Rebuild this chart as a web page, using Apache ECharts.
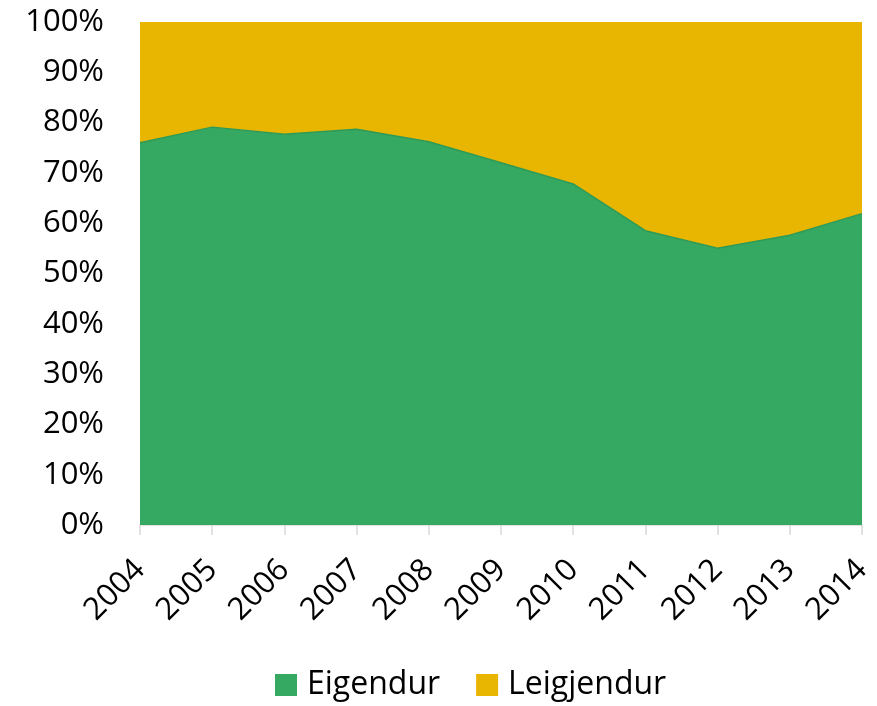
<!DOCTYPE html>
<html>
<head>
<meta charset="utf-8">
<script src="https://cdn.jsdelivr.net/npm/echarts@6/dist/echarts.min.js"></script>
<style>
  html, body { margin: 0; padding: 0; background: #fff; }
  #chart { width: 877px; height: 706px; }
</style>
</head>
<body>
<div id="chart"></div>
<script>
// years on the x axis
const years = ['2004', '2005', '2006', '2007', '2008', '2009', '2010', '2011', '2012', '2013', '2014']
// share of owners / renters, percent
const eigendur = [76.0, 79.1, 77.7, 78.7, 76.2, 72.0, 67.8, 58.5, 55.0, 57.6, 61.9]
const leigjendur = [24.0, 20.9, 22.3, 21.3, 23.8, 28.0, 32.2, 41.5, 45.0, 42.4, 38.1]

const font = 'Open Sans, Liberation Sans, sans-serif'

const myChart = echarts.init(document.getElementById('chart'))
myChart.setOption({
  animation: false,
  grid: { left: 140, right: 15, top: 22, bottom: 181 },
  legend: {
    bottom: 0,
    left: 270,
    itemWidth: 22,
    itemHeight: 22,
    itemGap: 36,
    icon: 'rect',
    textStyle: { fontFamily: font, fontSize: 32, color: '#000', padding: [0, 0, 0, 5] },
    data: ['Eigendur', 'Leigjendur']
  },
  xAxis: {
    type: 'category',
    data: years,
    boundaryGap: false,
    axisLine: { lineStyle: { color: '#d9d9d9', width: 1.5 } },
    axisTick: { show: true, length: 10, lineStyle: { color: '#d9d9d9', width: 1.5 } },
    axisLabel: {
      rotate: 45,
      margin: 40,
      fontFamily: font,
      fontSize: 31,
      color: '#000'
    }
  },
  yAxis: {
    type: 'value',
    min: 0,
    max: 100,
    interval: 10,
    axisLine: { show: false },
    axisTick: { show: false },
    splitLine: { show: false },
    axisLabel: {
      formatter: '{value}%',
      margin: 36,
      fontFamily: font,
      fontSize: 31,
      color: '#000'
    }
  },
  series: [
    {
      name: 'Eigendur',
      type: 'line',
      stack: 'total',
      data: eigendur,
      symbol: 'none',
      color: '#35a862',
      lineStyle: { color: '#2e9a58', width: 1.5 },
      areaStyle: { color: '#35a862', opacity: 1 }
    },
    {
      name: 'Leigjendur',
      type: 'line',
      stack: 'total',
      data: leigjendur,
      symbol: 'none',
      color: '#e8b500',
      lineStyle: { width: 0 },
      areaStyle: { color: '#e8b500', opacity: 1 }
    }
  ]
})
</script>
</body>
</html>
